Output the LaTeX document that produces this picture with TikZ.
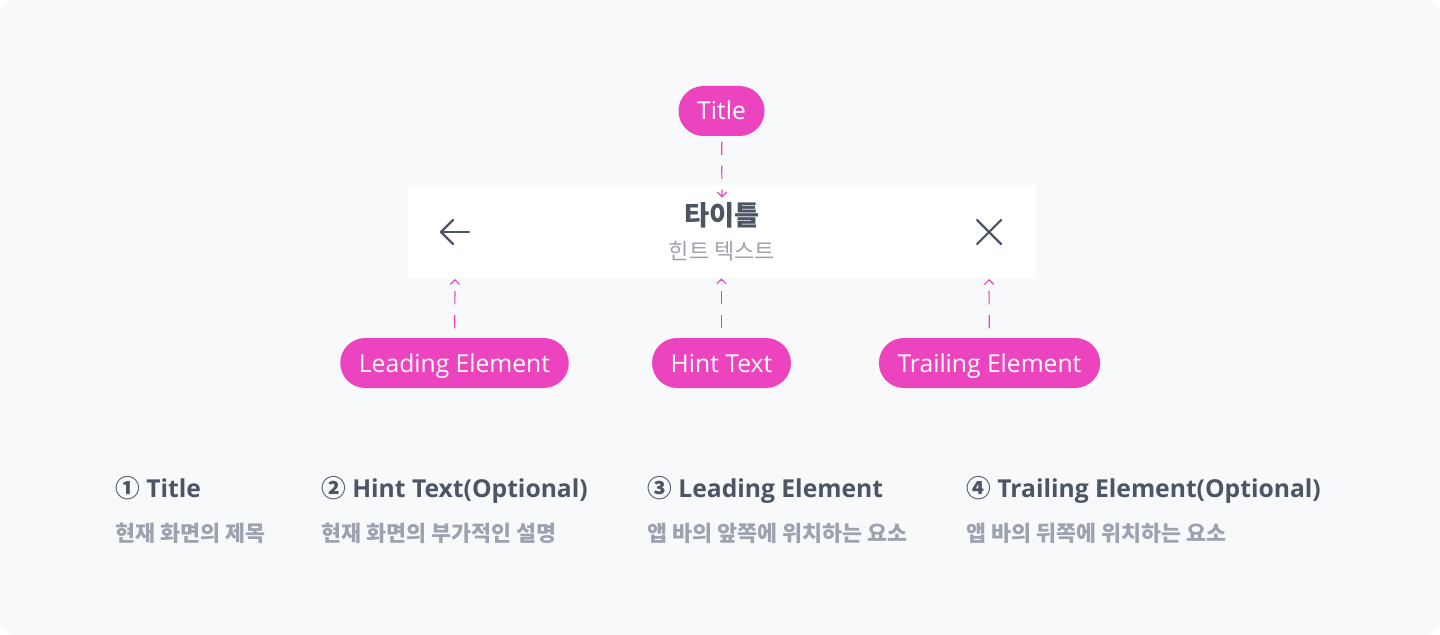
\documentclass[tikz,border=0pt]{standalone}
\usepackage{fontspec}
\setmainfont{Open Sans}
\newfontfamily\kr{Noto Sans CJK KR}
\usepackage{tikz}
\usetikzlibrary{arrows.meta}
\definecolor{bgcol}{HTML}{F8F9FB}
\definecolor{pink}{HTML}{EC44BF}
\definecolor{ink}{HTML}{4B5563}
\definecolor{muted}{HTML}{9CA3AF}
\tikzset{pill/.style = {fill = pink, text = white, rounded corners = 18.75pt, minimum height = 37.5pt, inner xsep = 14pt, text height = 13.5pt, text depth = 0pt, font = \fontsize{18.5}{21}\selectfont}}
\tikzset{conn/.style = {pink, line width = 0.9pt, dash pattern = on 10pt off 8pt, -{Straight Barb[length = 3.5pt, width = 7pt]}}}
\tikzset{icon/.style = {ink, line width = 1.6pt, line cap = round, line join = round}}
\tikzset{head/.style = {anchor = base west, inner sep = 0, text = ink, font = \fontsize{18.5}{22}\selectfont\bfseries}}
\tikzset{desc/.style = {anchor = base west, inner sep = 0, text = muted, font = \fontsize{16.3}{19}\selectfont\kr\bfseries}}

\begin{document}
\begin{tikzpicture}[x = 0.75pt, y = -0.75pt]
    \useasboundingbox (0, 0) rectangle (1440, 635);
    \fill [bgcol, rounded corners = 12pt] (0, 0) rectangle (1440, 635);

    \node (bar) [fill = white, inner sep = 0, minimum width = 471pt, minimum height = 69.75pt] at (722, 231.5) {};
    \node (titletxt) [anchor = base, inner sep = 0, text = ink, font = \fontsize{20.5}{23}\selectfont\kr\bfseries] at (722, 225) {타이틀};
    \node (hinttxt) [anchor = base, inner sep = 0, text = muted, font = \fontsize{16.5}{19}\selectfont\kr] at (722, 259) {힌트 텍스트};

    \draw [icon] (469, 232) -- (441, 232);
    \draw [icon] (453, 220) -- (441, 232) -- (453, 244);
    \draw [icon] (977, 220) -- (1001, 244);
    \draw [icon] (1001, 220) -- (977, 244);
    \coordinate (backicon) at (455, 279);
    \coordinate (closeicon) at (989, 279);

    \node (titlepill) [pill] at (721.5, 111) {Title};
    \node (leadpill) [pill] at (454.5, 363) {Leading Element};
    \node (hintpill) [pill] at (721.5, 363) {Hint Text};
    \node (trailpill) [pill] at (989.5, 363) {Trailing Element};

    \draw [conn, shorten <= 4pt, shorten >= 3pt] (titlepill) -- (titletxt.north);
    \draw [conn, shorten <= 7pt] (leadpill) -- (backicon);
    \draw [conn, shorten <= 7pt] (hintpill) -- (hintpill |- bar.south);
    \draw [conn, shorten <= 7pt] (trailpill) -- (closeicon);

    \node (h1) [head] at (115, 497) {{\kr ①} Title};
    \node (h2) [head] at (321, 497) {{\kr ②} Hint Text(Optional)};
    \node (h3) [head] at (647, 497) {{\kr ③} Leading Element};
    \node (h4) [head] at (966, 497) {{\kr ④} Trailing Element(Optional)};

    \node (d1) [desc] at (115, 541) {현재 화면의 제목};
    \node (d2) [desc] at (321, 541) {현재 화면의 부가적인 설명};
    \node (d3) [desc] at (647, 541) {앱 바의 앞쪽에 위치하는 요소};
    \node (d4) [desc] at (966, 541) {앱 바의 뒤쪽에 위치하는 요소};
\end{tikzpicture}
\end{document}
